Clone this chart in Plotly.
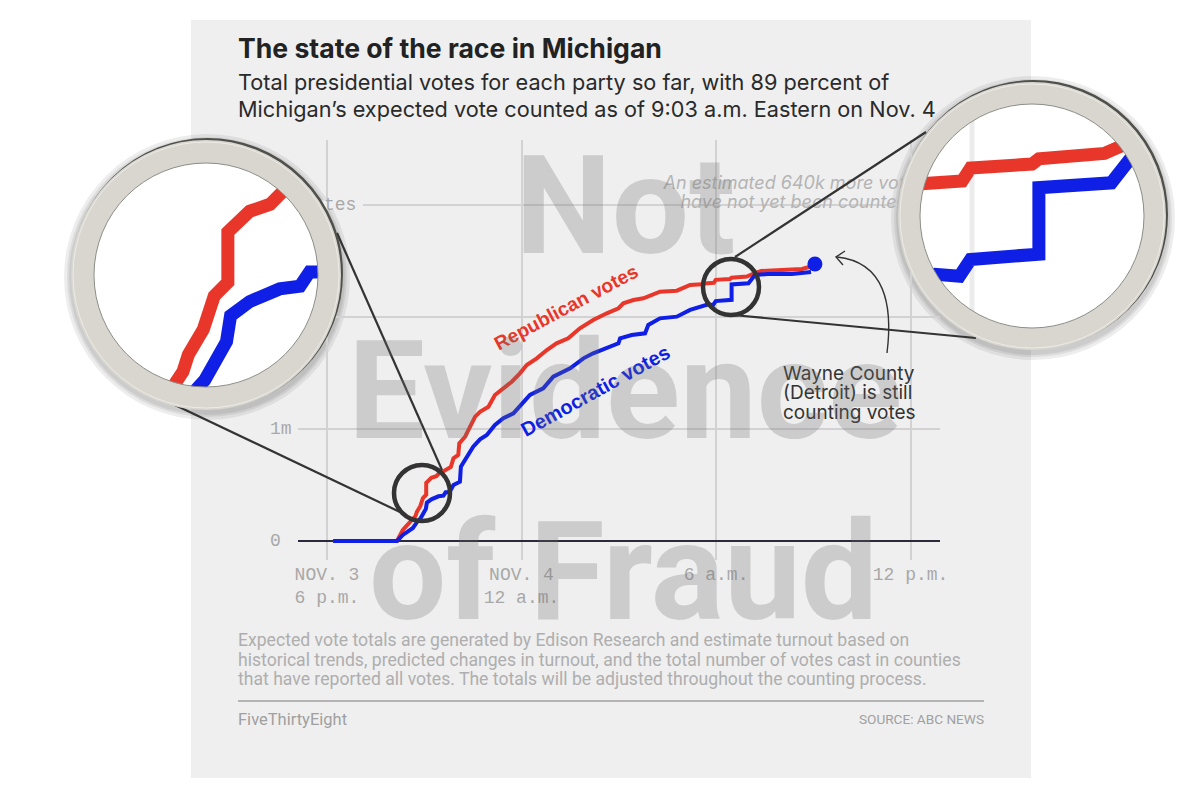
import numpy as np
import plotly.graph_objects as go

# the page body keeps an 8 px margin, so the figure is a little smaller than the window
W, H = 1184, 796
PAGE = 8

# hours after 6 p.m. on Nov. 3, votes in millions
rep_hours = [0.19, 2.16, 2.34, 2.65, 2.73, 2.77, 2.88, 2.96, 3.06, 3.06, 3.22, 3.37, 3.46, 3.58, 3.82,
             3.90, 4.05, 4.08, 4.26, 4.41, 4.57, 4.72, 4.98, 5.18, 5.44, 5.70, 5.95, 6.16, 6.47, 6.78,
             7.08, 7.44, 7.80, 8.21, 8.63, 8.99, 9.14, 9.45, 9.76, 10.27, 10.79, 11.20, 11.56, 11.64,
             11.93, 11.99, 12.43, 12.48, 12.95, 13.05, 13.14, 13.39, 14.13, 14.65, 14.87]
rep_votes = [0, 0, 0.098, 0.188, 0.223, 0.259, 0.313, 0.384, 0.413, 0.52, 0.564, 0.579, 0.605, 0.62, 0.661,
             0.738, 0.768, 0.872, 0.931, 1.02, 1.11, 1.154, 1.199, 1.304, 1.363, 1.422, 1.497, 1.571, 1.631, 1.705,
             1.765, 1.81, 1.899, 1.973, 2.033, 2.078, 2.122, 2.152, 2.167, 2.226, 2.235, 2.286, 2.292, 2.299,
             2.305, 2.332, 2.34, 2.351, 2.362, 2.378, 2.386, 2.411, 2.42, 2.429, 2.446]
dem_hours = [0.19, 2.16, 2.34, 2.65, 2.78, 2.89, 3.05, 3.08, 3.22, 3.44, 3.59, 3.66, 3.72, 3.79,
             3.90, 4.10, 4.13, 4.33, 4.51, 4.72, 4.93, 5.18, 5.44, 5.75, 6.05, 6.26, 6.67, 6.98, 7.50,
             7.91, 8.21, 8.63, 8.99, 9.04, 9.40, 9.81, 9.91, 10.27, 10.79, 11.20, 11.66, 11.74, 11.91,
             11.99, 12.48, 12.48, 13.00, 13.11, 13.20, 13.60, 14.34, 14.93]
dem_votes = [0, 0, 0.054, 0.116, 0.17, 0.205, 0.287, 0.342, 0.372, 0.399, 0.405, 0.435, 0.435, 0.441,
             0.5, 0.529, 0.663, 0.753, 0.842, 0.908, 0.946, 1.036, 1.096, 1.14, 1.229, 1.304, 1.363, 1.467, 1.542,
             1.631, 1.676, 1.72, 1.765, 1.81, 1.839, 1.854, 1.929, 1.988, 2.003, 2.063, 2.098, 2.111, 2.107,
             2.142, 2.153, 2.291, 2.301, 2.346, 2.375, 2.384, 2.384, 2.402]
dot_hours = [15.05]
dot_votes = [2.473]

x_ticks = [0, 6, 12, 18]
x_labels = ['NOV. 3<br>6 p.m.', 'NOV. 4<br>12 a.m.', '6 a.m.', '12 p.m.']
y_ticks = [0, 1, 2, 3]
y_labels = ['0', '1m', '2m', '3m votes']
estimate_note = ['An estimated 640k more votes', 'have not yet been counted']

RED = '#e8372a'
BLUE = '#0f1fe6'
GRID = '#d2d2d2'
PANEL = '#efefef'
MONO = 'Liberation Mono'
SANS = 'Inter'


def px(x):
    return (x - PAGE) / W


def py(y):
    return 1 - (y - PAGE) / H


# axis pixels: x=327 is hour 0 at 32.42 px/h, y=541 is zero at 112 px/m
def hr(x):
    return (x - 327) / 32.42


def mv(y):
    return (541 - y) / 112


def window(hours, votes, lo, hi):
    hours, votes = np.array(hours), np.array(votes)
    keep = (hours >= lo) & (hours <= hi)
    return hours[keep], votes[keep]


fig = go.Figure()

fig.add_trace(go.Scatter(x=rep_hours, y=rep_votes, mode='lines', line=dict(color=RED, width=4)))
fig.add_trace(go.Scatter(x=dem_hours, y=dem_votes, mode='lines', line=dict(color=BLUE, width=4)))
fig.add_trace(go.Scatter(x=dot_hours, y=dot_votes, mode='markers', marker=dict(color=BLUE, size=15)))
fig.add_trace(go.Scatter(x=[hr(794)] * 2, y=[mv(184), mv(203)], mode='text', cliponaxis=False, text=estimate_note,
                         textfont=dict(family=SANS, size=18, color='#b4b4b4', style='italic')))

# y labels start left of the gridlines, so they get a thin subplot of their own
fig.add_trace(go.Scatter(x=[0] * 4, y=y_ticks, text=y_labels, mode='text', textposition='middle right',
                         xaxis='x2', yaxis='y2', cliponaxis=False,
                         textfont=dict(family=MONO, size=18, color='#a8a8a8')))

# the two magnifying lenses show the same series on their own axes
lenses = [
    dict(cx=206, cy=275, src_x=421, src_y=493, mag=4.2, outer=135, inner=112, axes=('x3', 'y3'),
         rep=(2.65, 3.58), dem=(2.78, 3.79)),
    dict(cx=1032, cy=216, src_x=730, src_y=291, mag=4.3, outer=134, inner=112, axes=('x4', 'y4'),
         rep=(11.56, 13.14), dem=(11.66, 13.20)),
]

shapes = []
layout_axes = dict(
    xaxis2=dict(domain=[px(270), px(370)], range=[0, 1], anchor='y2', visible=False),
    yaxis2=dict(domain=[py(560), py(140)], range=[mv(560), mv(140)], anchor='x2', visible=False),
)

for lens in lenses:
    xa, ya = lens['axes']
    o = lens['outer']
    half = o / lens['mag']
    x_range = [hr(lens['src_x'] - half), hr(lens['src_x'] + half)]
    y_range = [mv(lens['src_y'] + half), mv(lens['src_y'] - half)]
    layout_axes['xaxis' + xa[1:]] = dict(domain=[px(lens['cx'] - o), px(lens['cx'] + o)], range=x_range, anchor=ya,
                                         visible=False)
    layout_axes['yaxis' + ya[1:]] = dict(domain=[py(lens['cy'] + o), py(lens['cy'] - o)], range=y_range, anchor=xa,
                                         visible=False)
    r = lens['inner'] / lens['mag']
    # white glass, sits under the lens traces but over the main chart
    shapes.append(dict(type='circle', xref=xa, yref=ya, layer='below', line_width=0, fillcolor='white',
                       x0=hr(lens['src_x'] - r - 2), x1=hr(lens['src_x'] + r + 2),
                       y0=mv(lens['src_y'] + r + 2), y1=mv(lens['src_y'] - r - 2)))
    for t in x_ticks:
        if x_range[0] < t < x_range[1]:
            fig.add_trace(go.Scatter(x=[t, t], y=[mv(lens['src_y'] + r), mv(lens['src_y'] - r)], xaxis=xa, yaxis=ya,
                                     mode='lines', line=dict(color='#ececec', width=5)))
    rh, rv = window(rep_hours, rep_votes, *lens['rep'])
    dh, dv = window(dem_hours, dem_votes, *lens['dem'])
    fig.add_trace(go.Scatter(x=rh, y=rv, xaxis=xa, yaxis=ya, mode='lines', line=dict(color=RED, width=13)))
    fig.add_trace(go.Scatter(x=dh, y=dv, xaxis=xa, yaxis=ya, mode='lines', line=dict(color=BLUE, width=13)))


def circle(cx, cy, r, **kw):
    return dict(type='circle', xref='paper', yref='paper', x0=px(cx - r), x1=px(cx + r),
                y0=py(cy + r), y1=py(cy - r), **kw)


def seg(x0, y0, x1, y1, color='#333333', width=2.2):
    return dict(type='line', xref='paper', yref='paper', layer='above', x0=px(x0), y0=py(y0), x1=px(x1), y1=py(y1),
                line=dict(color=color, width=width))


def path(d, color='#333333', width=1.4):
    return dict(type='path', xref='paper', yref='paper', layer='above', path=d, line=dict(color=color, width=width))


def pt(x, y):
    return f'{px(x):.5f},{py(y):.5f}'


# panel first, everything else on top of it
shapes.insert(0, dict(type='rect', xref='paper', yref='paper', layer='below', x0=px(191), x1=px(1031),
                      y0=py(778), y1=py(20), fillcolor=PANEL, line_width=0))

# soft shadows under the rings
for lens in lenses:
    for grow in [8, 5, 3]:
        shapes.append(circle(lens['cx'] + 1, lens['cy'] + 2, lens['outer'] + grow, layer='below', line_width=0,
                             fillcolor='rgba(0,0,0,0.07)'))

# small circles and the lines that join them to the lenses
shapes += [
    seg(175, 405, 400, 512), seg(337, 233, 442, 470),
    seg(926, 132, 735, 257), seg(976, 338, 733, 315),
    circle(422, 493, 28, layer='above', line=dict(color='#333333', width=4.5)),
    circle(731, 287, 28, layer='above', line=dict(color='#333333', width=4.5)),
]

for lens in lenses:
    o, i = lens['outer'], lens['inner']
    shapes += [
        circle(lens['cx'] + 1.5, lens['cy'] - 1.5, o - 1, layer='above', line=dict(color='#4f4f4b', width=3)),
        circle(lens['cx'], lens['cy'], (o + i) / 2, layer='above', line=dict(color='#d8d6cf', width=o - i)),
        circle(lens['cx'], lens['cy'], i, layer='above', line=dict(color='#8d8d88', width=1)),
        circle(lens['cx'], lens['cy'], o - 2, layer='above', line=dict(color='#ecebe6', width=1)),
    ]

# mask the 3m gridline behind its long label, and the note's arrow
shapes.append(dict(type='rect', xref='x', yref='y', layer='between', x0=hr(298), x1=hr(363), y0=2.96, y1=3.04,
                   fillcolor=PANEL, line_width=0))
shapes.append(path(f'M {pt(887, 353)} C {pt(893, 305)} {pt(885, 262)} {pt(837, 257)}'))
shapes.append(path(f'M {pt(845, 251)} L {pt(836, 257)} L {pt(843, 265)}'))
# footer rule
shapes.append(dict(type='line', xref='paper', yref='paper', layer='below', x0=px(238), x1=px(984), y0=py(701),
                   y1=py(701), line=dict(color='#b4b4b4', width=2)))

text_items = [
    ('The state of the race in Michigan', 238, 48, 'left', 26.6, '#222222', 'bold', SANS),
    ('Total presidential votes for each party so far, with 89 percent of', 238, 82, 'left', 21.7, '#2a2a2a', 'normal', SANS),
    ('Michigan’s expected vote counted as of 9:03 a.m. Eastern on Nov. 4', 238, 109, 'left', 21.7, '#2a2a2a', 'normal', SANS),
    ('Wayne County', 783, 373, 'left', 19, '#333333', 'normal', SANS),
    ('(Detroit) is still', 783, 392, 'left', 19, '#333333', 'normal', SANS),
    ('counting votes', 783, 412, 'left', 19, '#333333', 'normal', SANS),
    ('Expected vote totals are generated by Edison Research and estimate turnout based on', 238, 640, 'left', 17.6, '#aeaeae', 'normal', 'Roboto'),
    ('historical trends, predicted changes in turnout, and the total number of votes cast in counties', 238, 660, 'left', 17.6, '#aeaeae', 'normal', 'Roboto'),
    ('that have reported all votes. The totals will be adjusted throughout the counting process.', 238, 679, 'left', 17.6, '#aeaeae', 'normal', 'Roboto'),
    ('FiveThirtyEight', 238, 719, 'left', 16.5, '#a0a0a0', 'normal', 'Roboto'),
    ('SOURCE: ABC NEWS', 984, 719, 'right', 13.6, '#a0a0a0', 'normal', 'Roboto'),
]

annotations = []
for text, x, y, anchor, size, color, weight, family in text_items:
    annotations.append(dict(text=text, x=px(x), y=py(y), xref='paper', yref='paper', xanchor=anchor, yanchor='middle',
                            showarrow=False, borderpad=0, borderwidth=0,
                            font=dict(family=family, size=size, color=color, weight=weight)))

annotations.append(dict(text='Republican votes', x=px(566), y=py(307), xref='paper', yref='paper', showarrow=False,
                        xanchor='center', yanchor='middle', textangle=-28,
                        font=dict(family='Liberation Sans', size=19.3, color=RED, weight='bold')))
annotations.append(dict(text='Democratic votes', x=px(595), y=py(391), xref='paper', yref='paper', showarrow=False,
                        xanchor='center', yanchor='middle', textangle=-29,
                        font=dict(family='Liberation Sans', size=20, color=BLUE, weight='bold')))

# watermark over the whole chart
for text, x, y in [('Not', 625, 206), ('Evidence', 625, 391), ('of Fraud', 623, 572)]:
    annotations.append(dict(text=text, x=px(x), y=py(y), xref='paper', yref='paper', showarrow=False,
                            xanchor='center', yanchor='middle',
                            font=dict(family='Roboto', size=137, color='rgba(110,110,110,0.27)', weight='bold')))

fig.update_layout(
    width=W, height=H, autosize=False, showlegend=False,
    margin=dict(l=0, r=0, t=0, b=0, pad=0, autoexpand=False),
    paper_bgcolor='white', plot_bgcolor='rgba(0,0,0,0)',
    xaxis=dict(domain=[px(298), px(940)], range=[hr(298), hr(940)], tickvals=x_ticks, ticktext=x_labels,
               showgrid=True, gridcolor=GRID, gridwidth=1.5, zeroline=False, showline=False, ticks='',
               ticklabelstandoff=1, tickfont=dict(family=MONO, size=18, color='#a8a8a8')),
    yaxis=dict(domain=[py(560), py(140)], range=[mv(560), mv(140)], tickvals=y_ticks, showticklabels=False,
               showgrid=True, gridcolor=GRID, gridwidth=1.5, zeroline=True, zerolinecolor='#2a2a3a', zerolinewidth=2,
               showline=False, ticks=''),
    shapes=shapes,
    annotations=annotations,
    hovermode=False,
    **layout_axes,
)

fig.write_html("out.html", config=dict(displayModeBar=False))
